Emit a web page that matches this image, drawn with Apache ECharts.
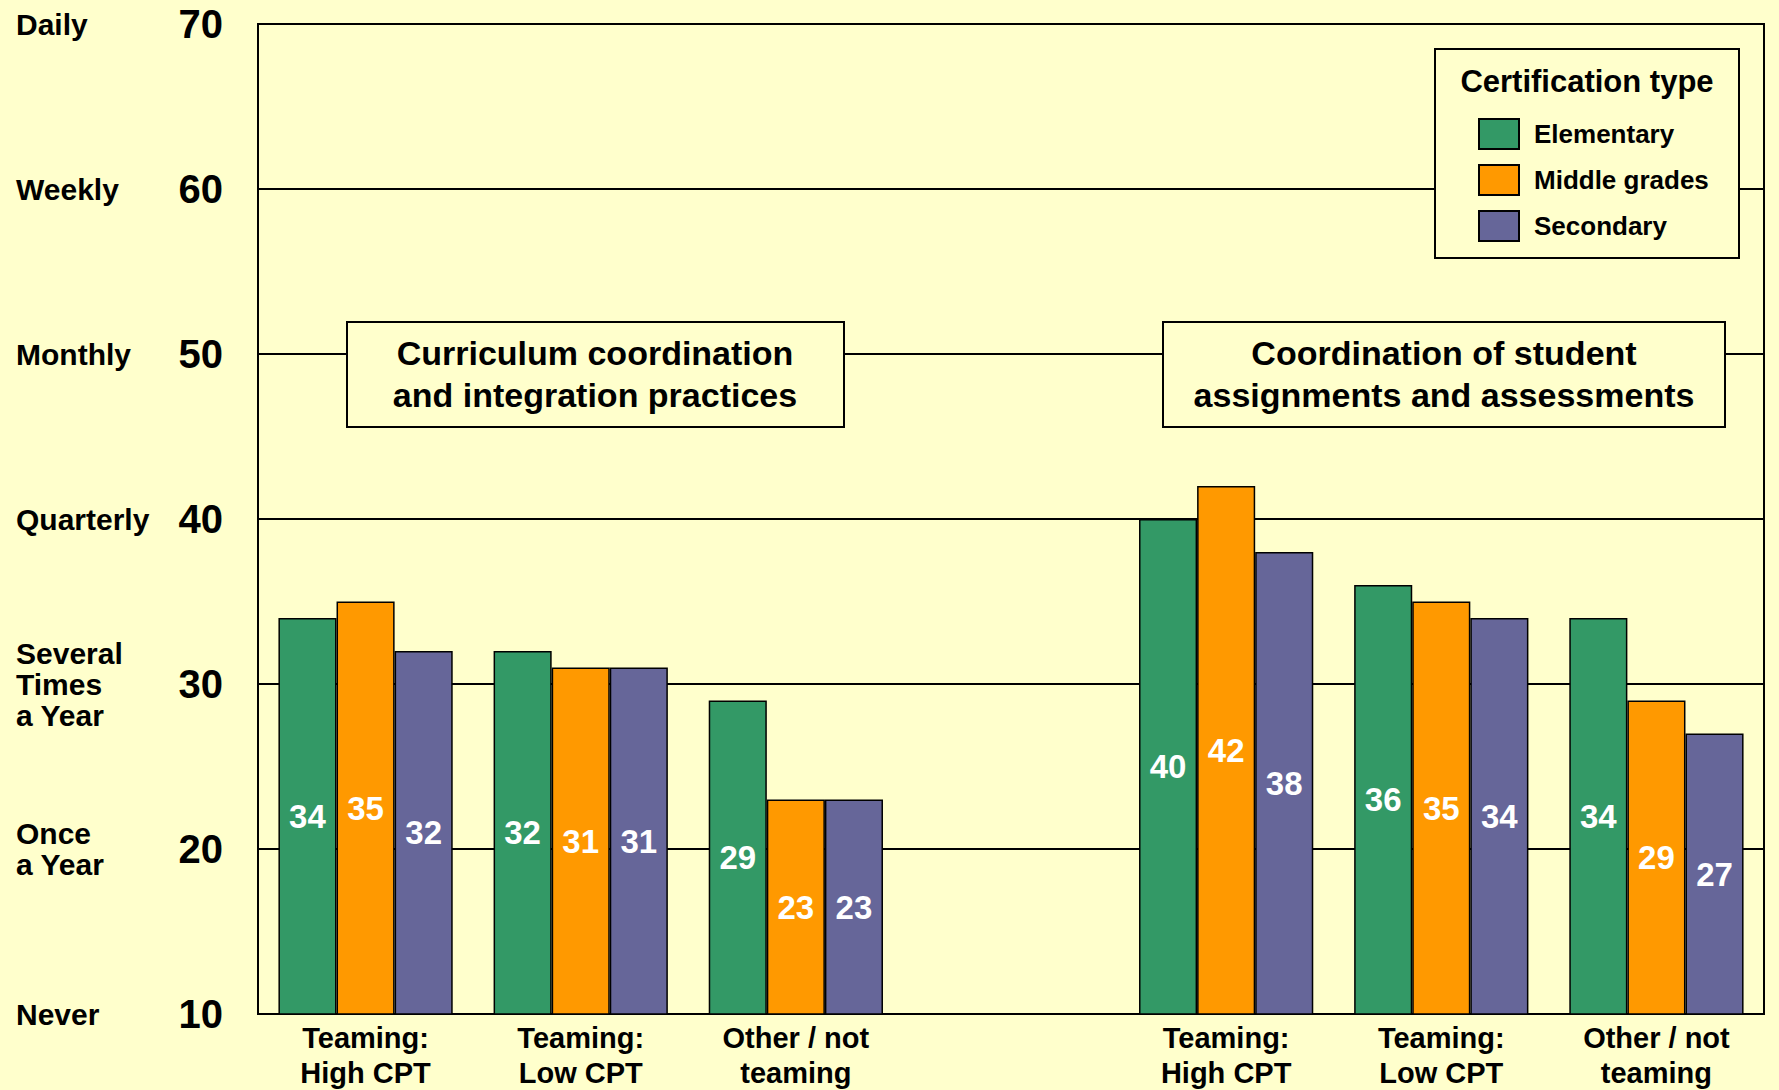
<!DOCTYPE html>
<html><head><meta charset="utf-8">
<script src="https://cdn.jsdelivr.net/npm/echarts@6/dist/echarts.min.js"></script>
<style>html,body{margin:0;padding:0;background:#FFFFCC;}#chart{width:1779px;height:1090px;}</style>
</head><body><div id="chart"></div>
<script>
const groups = ['Teaming:\nHigh CPT', 'Teaming:\nLow CPT', 'Other / not\nteaming'];
const panelTitles = ['Curriculum coordination\nand integration practices', 'Coordination of student\nassignments and assessments'];
const seriesNames = ['Elementary', 'Middle grades', 'Secondary'];
const elementary = [34, 32, 29, 40, 36, 34];
const middleGrades = [35, 31, 23, 42, 35, 29];
const secondary = [32, 31, 23, 38, 34, 27];
const yTicks = [10, 20, 30, 40, 50, 60, 70];
const freqLabels = ['Never', 'Once\na Year', 'Several\nTimes\na Year', 'Quarterly', 'Monthly', 'Weekly', 'Daily'];
const legendTitle = 'Certification type';
const colors = ['#339966', '#FF9900', '#666699'];

const F = '"Liberation Sans", Arial, sans-serif';
const categories = [...groups, '', ...groups];
function withGap(a) { return [a[0], a[1], a[2], null, a[3], a[4], a[5]]; }

const chart = echarts.init(document.getElementById('chart'), null, {renderer: 'svg'});

const series = [elementary, middleGrades, secondary].map((vals, i) => ({
  name: seriesNames[i],
  type: 'bar',
  data: withGap(vals),
  barGap: '0%',
  barCategoryGap: '19%',
  itemStyle: {color: colors[i], borderColor: '#000', borderWidth: 1.5},
  label: {show: true, position: 'inside', color: '#fff', fontSize: 33, fontWeight: 'bold', fontFamily: F},
  z: 3
}));

function textEl(x, y, text, size, lh) {
  return {type: 'text', x: x, y: y, z: 11,
    style: {text: text, fill: '#000', font: 'bold ' + size + 'px ' + F,
      fontSize: size, fontWeight: 'bold', fontFamily: F,
      align: 'center', textAlign: 'center', verticalAlign: 'middle', textVerticalAlign: 'middle',
      lineHeight: lh}};
}
function boxEl(x, y, w, h) {
  return {type: 'rect', z: 10, shape: {x: x, y: y, width: w, height: h},
    style: {fill: '#FFFFCC', stroke: '#000', lineWidth: 2}};
}

chart.setOption({
  backgroundColor: '#FFFFCC',
  animation: false,
  grid: {left: 258, right: 15, top: 24, bottom: 76, show: true, borderColor: '#000', borderWidth: 2, backgroundColor: 'transparent', containLabel: false, outerBoundsMode: 'none'},
  xAxis: {
    type: 'category', data: categories,
    axisLine: {lineStyle: {color: '#000', width: 2}},
    axisTick: {show: false},
    axisLabel: {color: '#000', fontSize: 29, fontWeight: 'bold', fontFamily: F, lineHeight: 35, margin: 6, interval: 0}
  },
  yAxis: [
    {
      type: 'value', min: yTicks[0], max: yTicks[yTicks.length - 1], interval: 10, position: 'left',
      axisLine: {show: true, lineStyle: {color: '#000', width: 2}},
      axisTick: {show: false},
      splitLine: {show: true, lineStyle: {color: '#000', width: 2}},
      axisLabel: {color: '#000', fontSize: 40, fontWeight: 'bold', fontFamily: F, margin: 35}
    },
    {
      type: 'value', min: yTicks[0], max: yTicks[yTicks.length - 1], interval: 10, position: 'left', offset: 200,
      axisLine: {show: false}, axisTick: {show: false}, splitLine: {show: false},
      axisLabel: {color: '#000', fontSize: 30, fontWeight: 'bold', fontFamily: F, lineHeight: 31, align: 'left', margin: 42,
        padding: [0, 0, 4, 0],
        formatter: function (v) { const i = yTicks.indexOf(v); return i >= 0 ? freqLabels[i] : ''; }}
    }
  ],
  legend: {
    data: seriesNames, orient: 'vertical', left: 1478, top: 118, padding: 0,
    itemWidth: 40, itemHeight: 30, itemGap: 14, icon: 'rect', selectedMode: false, z: 20,
    itemStyle: {borderColor: '#000', borderWidth: 2},
    textStyle: {color: '#000', fontSize: 26, fontWeight: 'bold', fontFamily: F, padding: [0, 0, 0, 10]}
  },
  graphic: [
    boxEl(1435, 49, 304, 209),
    textEl(1587, 81, legendTitle, 31, 36),
    boxEl(347, 322, 497, 105),
    textEl(595, 374, panelTitles[0], 34, 42),
    boxEl(1163, 322, 562, 105),
    textEl(1444, 374, panelTitles[1], 34, 42)
  ],
  series: series
});
</script>
</body></html>
